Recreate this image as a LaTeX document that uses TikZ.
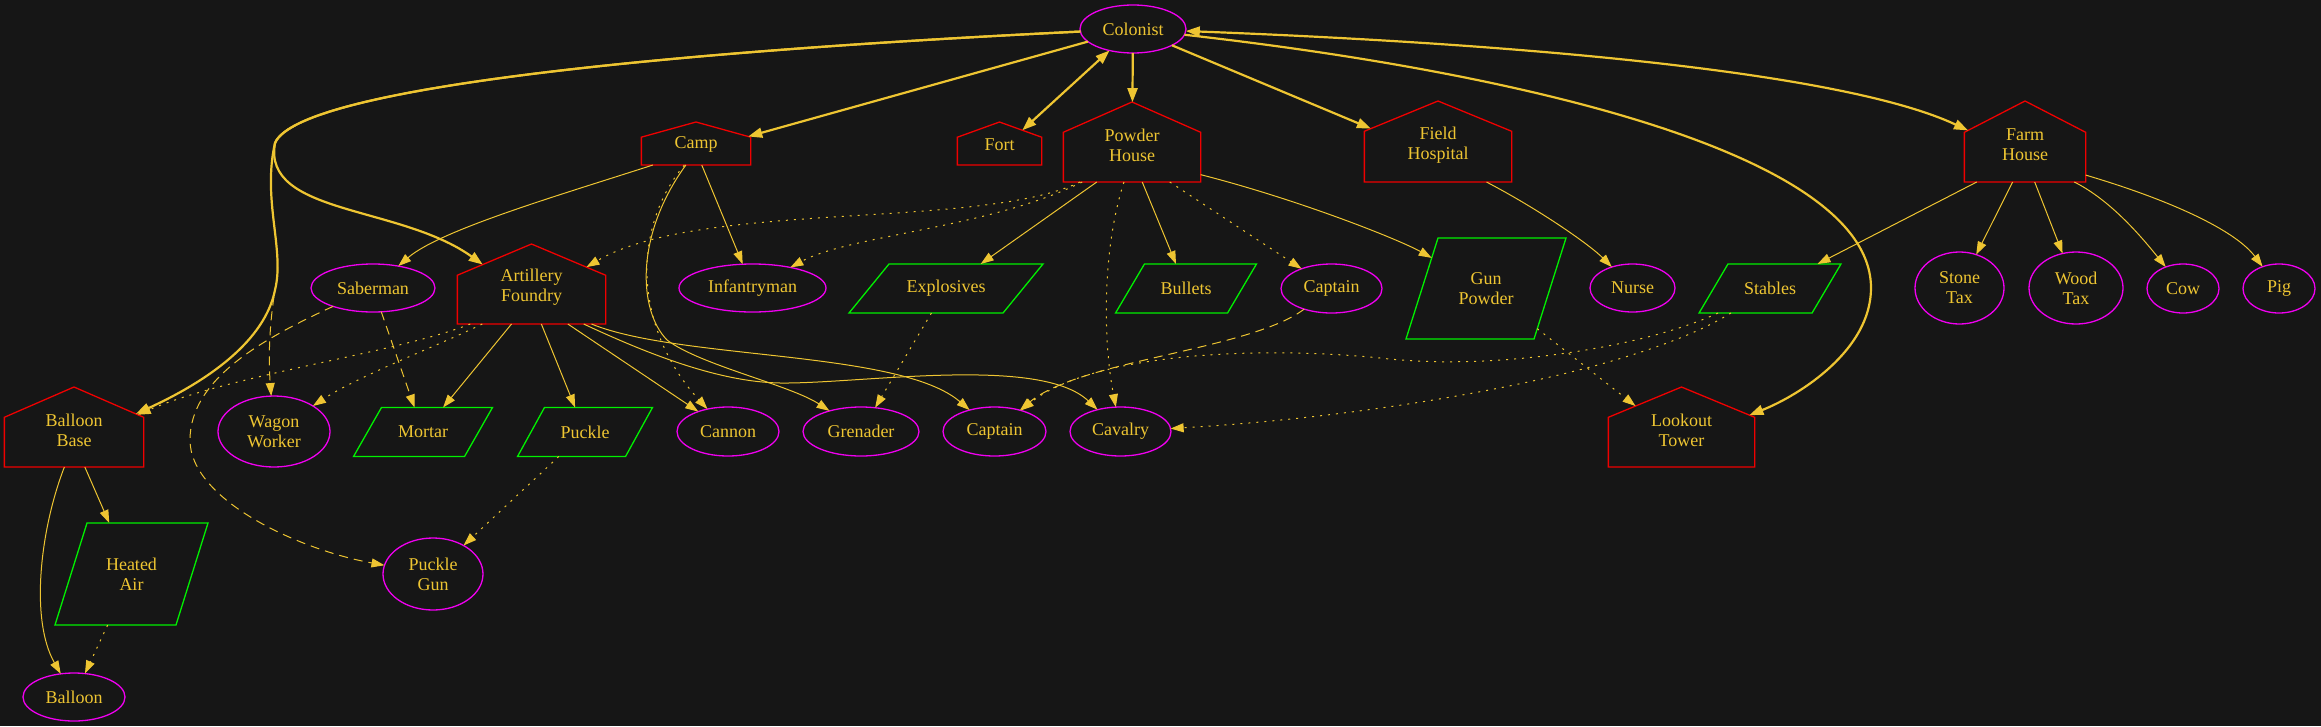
\documentclass[tikz,border=0pt]{standalone}
\usepackage{fontspec}
\setmainfont{Liberation Serif}
\usetikzlibrary{shapes.geometric,shapes.arrows,arrows.meta}
\definecolor{bg}{HTML}{161616}
\definecolor{gold}{HTML}{EEC532}
\definecolor{hred}{HTML}{F00000}
\definecolor{mag}{HTML}{F000F0}
\definecolor{grn}{HTML}{00F000}
\begin{document}
\begin{tikzpicture}[x=1pt,y=-1pt,
  every node/.style={font=\fontsize{18}{20}\selectfont, text=gold},
  ell/.style={ellipse, draw=mag, line width=1.3pt, inner sep=0pt, outer sep=0pt, align=center},
  hous/.style={single arrow, single arrow head extend=0pt, rotate=90, draw=hred, line width=1.3pt, inner xsep=0pt, outer sep=0pt, anchor=tail, minimum width=1pt},
  para/.style={rectangle, draw=grn, line width=1.3pt, inner sep=0pt, outer sep=0pt},
  lbl/.style={inner sep=0pt, align=center},
  edg/.style={draw=gold, line width=1pt, -{Triangle[length=13pt,width=9pt]}},
  thk/.style={draw=gold, line width=2.2pt, -{Triangle[length=14pt,width=10pt]}},
  thkb/.style={draw=gold, line width=2.2pt, {Triangle[length=14pt,width=10pt]}-{Triangle[length=14pt,width=10pt]}},
  dotd/.style={edg, dash pattern=on 2pt off 6pt},
  dshd/.style={edg, dash pattern=on 9pt off 6pt}
]
\fill[bg] (0,0) rectangle (2321,726);
\useasboundingbox (0,0) rectangle (2321,726);

% ---- ellipses
\node[ell, minimum width=106pt, minimum height=48pt] (col) at (1133,29) {Colonist};
\node[ell, minimum width=124pt, minimum height=48pt] (sab) at (373,288) {Saberman};
\node[ell, minimum width=147pt, minimum height=48pt] (inf) at (752.5,288) {Infantryman};
\node[ell, minimum width=101pt, minimum height=49pt] (cap1) at (1331.5,288.5) {Captain};
\node[ell, minimum width=85pt, minimum height=48pt] (nurse) at (1632.5,288) {Nurse};
\node[ell, minimum width=89pt, minimum height=72pt] (stone) at (1959.5,288) {Stone\\Tax};
\node[ell, minimum width=94pt, minimum height=72pt] (wood) at (2076,288) {Wood\\Tax};
\node[ell, minimum width=72pt, minimum height=49pt] (cow) at (2183,288.5) {Cow};
\node[ell, minimum width=72pt, minimum height=49pt] (pig) at (2279,288.5) {Pig};
\node[ell, minimum width=112pt, minimum height=71pt] (ww) at (274,431.5) {Wagon\\Worker};
\node[ell, minimum width=102pt, minimum height=49pt] (cannon) at (728,431.5) {Cannon};
\node[ell, minimum width=116pt, minimum height=49pt] (gren) at (861,431.5) {Grenader};
\node[ell, minimum width=103pt, minimum height=49pt] (cap2) at (994.5,431.5) {Captain};
\node[ell, minimum width=101pt, minimum height=49pt] (cav) at (1120.5,431.5) {Cavalry};
\node[ell, minimum width=100pt, minimum height=72pt] (pg) at (433,574) {Puckle\\Gun};
\node[ell, minimum width=102pt, minimum height=48pt] (bal) at (74,697) {Balloon};

% ---- houses
\node[hous, inner ysep=54pt, minimum height=43pt, single arrow tip angle=149] (camp) at (696,165) {};
\node[lbl] (campT) at (696,144) {Camp};
\node[hous, inner ysep=41.5pt, minimum height=43pt, single arrow tip angle=140.3] (fort) at (999.5,165) {};
\node[lbl] (fortT) at (999.5,145) {Fort};
\node[hous, inner ysep=68pt, minimum height=80pt, single arrow tip angle=132.4] (ph) at (1132,182) {};
\node[lbl] (phT) at (1132,145) {Powder\\House};
\node[hous, inner ysep=73pt, minimum height=81pt, single arrow tip angle=135.3] (fh) at (1438,182) {};
\node[lbl] (fhT) at (1438,145) {Field\\Hospital};
\node[hous, inner ysep=60pt, minimum height=81pt, single arrow tip angle=125.4] (farm) at (2025,182) {};
\node[lbl] (farmT) at (2025,145) {Farm\\House};
\node[hous, inner ysep=73.5pt, minimum height=80pt, single arrow tip angle=134.3] (af) at (531.5,324) {};
\node[lbl] (afT) at (531.5,287) {Artillery\\Foundry};
\node[hous, inner ysep=69pt, minimum height=80pt, single arrow tip angle=133] (bb) at (74,467) {};
\node[lbl] (bbT) at (74,430) {Balloon\\Base};
\node[hous, inner ysep=72.5pt, minimum height=80pt, single arrow tip angle=135] (lt) at (1681.5,467) {};
\node[lbl] (ltT) at (1681.5,430) {Lookout\\Tower};

% ---- parallelograms
\node[para, minimum width=154pt, minimum height=49pt, xslant=0.816] (expl) at (946,288.5) {};
\node[lbl] (explT) at (946,288.5) {Explosives};
\node[para, minimum width=112pt, minimum height=49pt, xslant=0.59] (bul) at (1186,288.5) {};
\node[lbl] (bulT) at (1186,288.5) {Bullets};
\node[para, minimum width=128pt, minimum height=101pt, xslant=0.317] (gp) at (1486,288.5) {};
\node[lbl] (gpT) at (1486,288.5) {Gun\\Powder};
\node[para, minimum width=113pt, minimum height=49pt, xslant=0.59] (stab) at (1770,288.5) {};
\node[lbl] (stabT) at (1770,288.5) {Stables};
\node[para, minimum width=111pt, minimum height=49pt, xslant=0.57] (mort) at (423,432) {};
\node[lbl] (mortT) at (423,432) {Mortar};
\node[para, minimum width=108pt, minimum height=49pt, xslant=0.55] (puck) at (585,432) {};
\node[lbl] (puckT) at (585,432) {Puckle};
\node[para, minimum width=121pt, minimum height=102pt, xslant=0.314] (ha) at (131.5,574) {};
\node[lbl] (haT) at (131.5,574) {Heated\\Air};

% ---- edges from Colonist
\draw[dshd] (col) .. controls (700,50) and (300,85) .. (275,143) .. controls (262,200) and (285,250) .. (275,290) .. controls (270,320) and (268,355) .. (ww);
\draw[thk] (col) .. controls (700,50) and (300,85) .. (275,143) .. controls (262,200) and (285,250) .. (275,290) .. controls (265,340) and (210,380) .. (bb);
\draw[thk] (col) .. controls (700,50) and (300,85) .. (275,143) .. controls (262,215) and (400,205) .. (af);
\draw[thk] (col) -- (camp);
\draw[thkb] (col) -- (fort);
\draw[thk] (col) -- (ph);
\draw[thk] (col) -- (fh);
\draw[thkb] (col) .. controls (1550,45) and (1850,75) .. (farm);
\draw[thk] (col) .. controls (1500,70) and (1871,150) .. (1871,288) .. controls (1871,350) and (1800,395) .. (lt);

% ---- Camp
\draw[edg] (camp) .. controls (560,195) and (440,230) .. (sab);
\draw[edg] (camp) -- (inf);
\draw[dotd] (camp) .. controls (630,230) and (635,330) .. (cannon);
\draw[edg] (camp) .. controls (635,235) and (638,310) .. (667,340) .. controls (700,365) and (790,385) .. (gren);

% ---- Powder House
\draw[dotd] (ph) .. controls (980,230) and (700,200) .. (af);
\draw[dotd] (ph) .. controls (990,228) and (850,235) .. (inf);
\draw[edg] (ph) -- (expl);
\draw[edg] (ph) -- (bul);
\draw[dotd] (ph) -- (cap1);
\draw[dotd] (ph) .. controls (1102,250) and (1103,340) .. (cav);
\draw[edg] (ph) .. controls (1300,200) and (1400,240) .. (gp);

% ---- Field Hospital, Farm House
\draw[edg] (fh) .. controls (1540,210) and (1590,245) .. (nurse);
\draw[edg] (farm) -- (stab);
\draw[edg] (farm) -- (stone);
\draw[edg] (farm) -- (wood);
\draw[edg] (farm) .. controls (2110,200) and (2140,235) .. (cow);
\draw[edg] (farm) .. controls (2170,200) and (2235,230) .. (pig);

% ---- Artillery Foundry
\draw[edg] (af) -- (mort);
\draw[edg] (af) -- (puck);
\draw[edg] (af) -- (cannon);
\draw[edg] (af) .. controls (680,360) and (900,350) .. (cap2);
\draw[edg] (af) .. controls (650,355) and (720,382) .. (780,383) .. controls (860,384) and (1040,355) .. (cav);
\draw[dotd] (af) .. controls (440,345) and (360,375) .. (ww);
\draw[dotd] (af) .. controls (400,352) and (230,375) .. (bb);

% ---- Saberman
\draw[dshd] (sab) -- (mort);
\draw[dshd] (sab) .. controls (260,340) and (190,380) .. (190,440) .. controls (190,500) and (300,550) .. (pg);

% ---- others
\draw[dshd] (cap1) .. controls (1250,350) and (1080,360) .. (cap2);
\draw[dotd] (stab) .. controls (1650,345) and (1500,372) .. (1380,358) .. controls (1250,345) and (1090,355) .. (cap2);
\draw[dotd] (stab) .. controls (1640,370) and (1400,415) .. (cav);
\draw[dotd] (gp) -- (lt);
\draw[dotd] (expl) -- (gren);
\draw[dotd] (puck) -- (pg);
\draw[edg] (bb) -- (ha);
\draw[edg] (bb) .. controls (40,530) and (30,620) .. (bal);
\draw[dotd] (ha) -- (bal);
\end{tikzpicture}
\end{document}
